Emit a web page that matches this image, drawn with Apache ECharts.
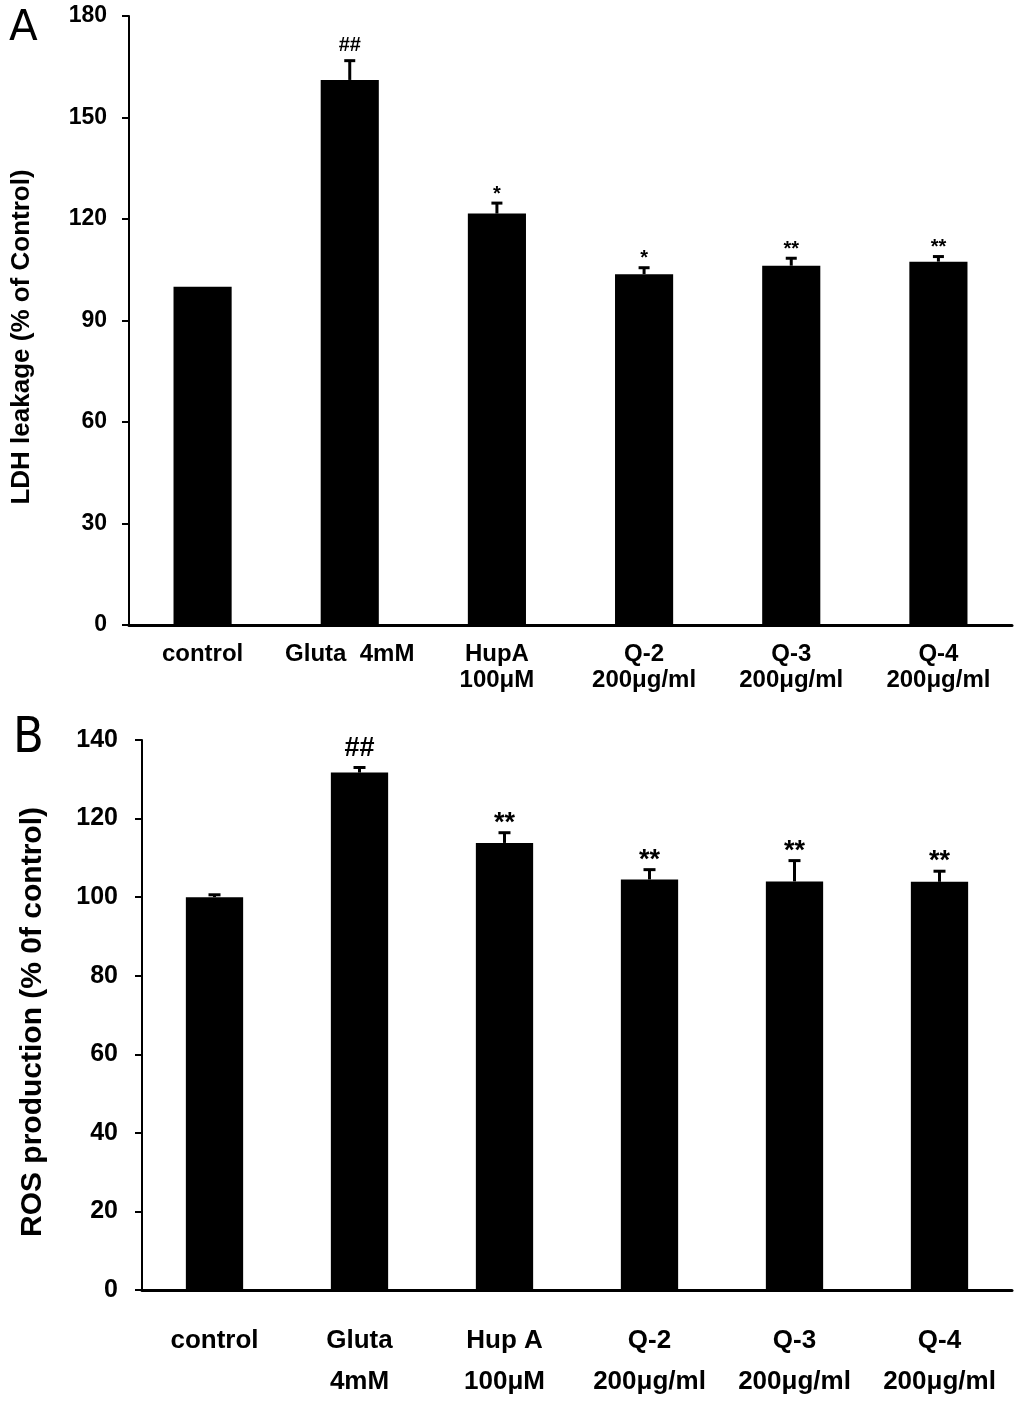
<!DOCTYPE html>
<html><head><meta charset="utf-8">
<script src="https://cdn.jsdelivr.net/npm/echarts@6/dist/echarts.min.js"></script>
<style>html,body{margin:0;padding:0;background:#fff}#c{width:1024px;height:1402px}</style>
</head><body><div id="c"></div>
<script>
const categoriesA = ['control', 'Gluta  4mM', 'HupA\n100μM', 'Q-2\n200μg/ml', 'Q-3\n200μg/ml', 'Q-4\n200μg/ml'];
const valuesA = [100, 161.1, 121.6, 103.7, 106.2, 107.4];
const errorsA = [0, 5.7, 3.1, 1.9, 2.2, 1.5];
const marksA = ['', '##', '*', '*', '**', '**'];
const ticksA = {min: 0, max: 180, interval: 30};

const categoriesB = ['control', 'Gluta\n4mM', 'Hup A\n100μM', 'Q-2\n200μg/ml', 'Q-3\n200μg/ml', 'Q-4\n200μg/ml'];
const valuesB = [100, 131.7, 113.8, 104.5, 104.0, 103.9];
const errorsB = [0.6, 1.3, 2.6, 2.5, 5.3, 2.7];
const marksB = ['', '##', '**', '**', '**', '**'];
const ticksB = {min: 0, max: 140, interval: 20};

const FONT = 'Liberation Sans, Arial, sans-serif';
const chart = echarts.init(document.getElementById('c'));

function errSeries(xi, vals, errs, marks, capW, markSize, hashGap, starGap) {
  return {
    type: 'custom', xAxisIndex: xi, yAxisIndex: xi, z: 10,
    data: vals.map((v, i) => [i, v, errs[i]]),
    renderItem: function (params, api) {
      const i = api.value(0), v = api.value(1), e = api.value(2);
      const m = marks[params.dataIndex];
      const p0 = api.coord([i, v]);
      const p1 = api.coord([i, v + e]);
      const children = [];
      if (e > 0) {
        children.push({type: 'line', shape: {x1: p0[0], y1: p0[1], x2: p1[0], y2: p1[1]}, style: {stroke: '#000', lineWidth: 3}});
        children.push({type: 'line', shape: {x1: p1[0] - capW / 2, y1: p1[1], x2: p1[0] + capW / 2, y2: p1[1]}, style: {stroke: '#000', lineWidth: 3}});
      }
      if (m) {
        const gap = m.indexOf('*') >= 0 ? starGap : hashGap;
        children.push({type: 'text', style: {text: m, x: p1[0], y: p1[1] - gap, align: 'center', verticalAlign: 'bottom', font: 'bold ' + markSize + 'px ' + FONT, fill: '#000'}});
      }
      return {type: 'group', children: children};
    }
  };
}

chart.setOption({
  animation: false,
  backgroundColor: '#fff',
  grid: [
    {left: 129, right: 12, top: 16, height: 609},
    {left: 142, right: 12, top: 740, height: 550}
  ],
  xAxis: [
    {gridIndex: 0, type: 'category', data: categoriesA,
     axisLine: {lineStyle: {color: '#000', width: 3}}, axisTick: {show: false},
     axisLabel: {color: '#000', fontFamily: FONT, fontWeight: 'bold', fontSize: 24, margin: 16, lineHeight: 26, interval: 0}},
    {gridIndex: 1, type: 'category', data: categoriesB,
     axisLine: {lineStyle: {color: '#000', width: 3}}, axisTick: {show: false},
     axisLabel: {color: '#000', fontFamily: FONT, fontWeight: 'bold', fontSize: 26, margin: 30, lineHeight: 41, interval: 0}}
  ],
  yAxis: [
    {gridIndex: 0, type: 'value', min: ticksA.min, max: ticksA.max, interval: ticksA.interval,
     splitLine: {show: false}, axisLine: {show: true, lineStyle: {color: '#000', width: 2}},
     axisTick: {show: true, length: 7, lineStyle: {color: '#000', width: 2}},
     axisLabel: {color: '#000', fontFamily: FONT, fontWeight: 'bold', fontSize: 23, margin: 22}},
    {gridIndex: 1, type: 'value', min: ticksB.min, max: ticksB.max, interval: ticksB.interval,
     splitLine: {show: false}, axisLine: {show: true, lineStyle: {color: '#000', width: 2}},
     axisTick: {show: true, length: 7, lineStyle: {color: '#000', width: 2}},
     axisLabel: {color: '#000', fontFamily: FONT, fontWeight: 'bold', fontSize: 25, margin: 24}}
  ],
  series: [
    {type: 'bar', xAxisIndex: 0, yAxisIndex: 0, data: valuesA, barWidth: '39.5%',
     itemStyle: {color: '#000'}},
    errSeries(0, valuesA, errorsA, marksA, 11, 20, 5, -1),
    {type: 'bar', xAxisIndex: 1, yAxisIndex: 1, data: valuesB, barWidth: '39.5%',
     itemStyle: {color: '#000'}},
    errSeries(1, valuesB, errorsB, marksB, 12, 27, 5, -4)
  ],
  graphic: [
    {type: 'text', left: 9, top: 8, style: {text: 'A', font: '42px DejaVu Sans, sans-serif', fill: '#000'}},
    {type: 'text', left: 13, top: 714, style: {text: 'B', font: '50px DejaVu Sans Condensed, DejaVu Sans, sans-serif', fill: '#000'}},
    {type: 'text', x: 22, y: 337, rotation: Math.PI / 2,
     style: {text: 'LDH leakage (% of Control)', font: 'bold 26px ' + FONT, fill: '#000', align: 'center', verticalAlign: 'middle'}},
    {type: 'text', x: 33, y: 1022, rotation: Math.PI / 2,
     style: {text: 'ROS production (% 0f control)', font: 'bold 30px ' + FONT, fill: '#000', align: 'center', verticalAlign: 'middle'}}
  ]
});
</script>
</body></html>
